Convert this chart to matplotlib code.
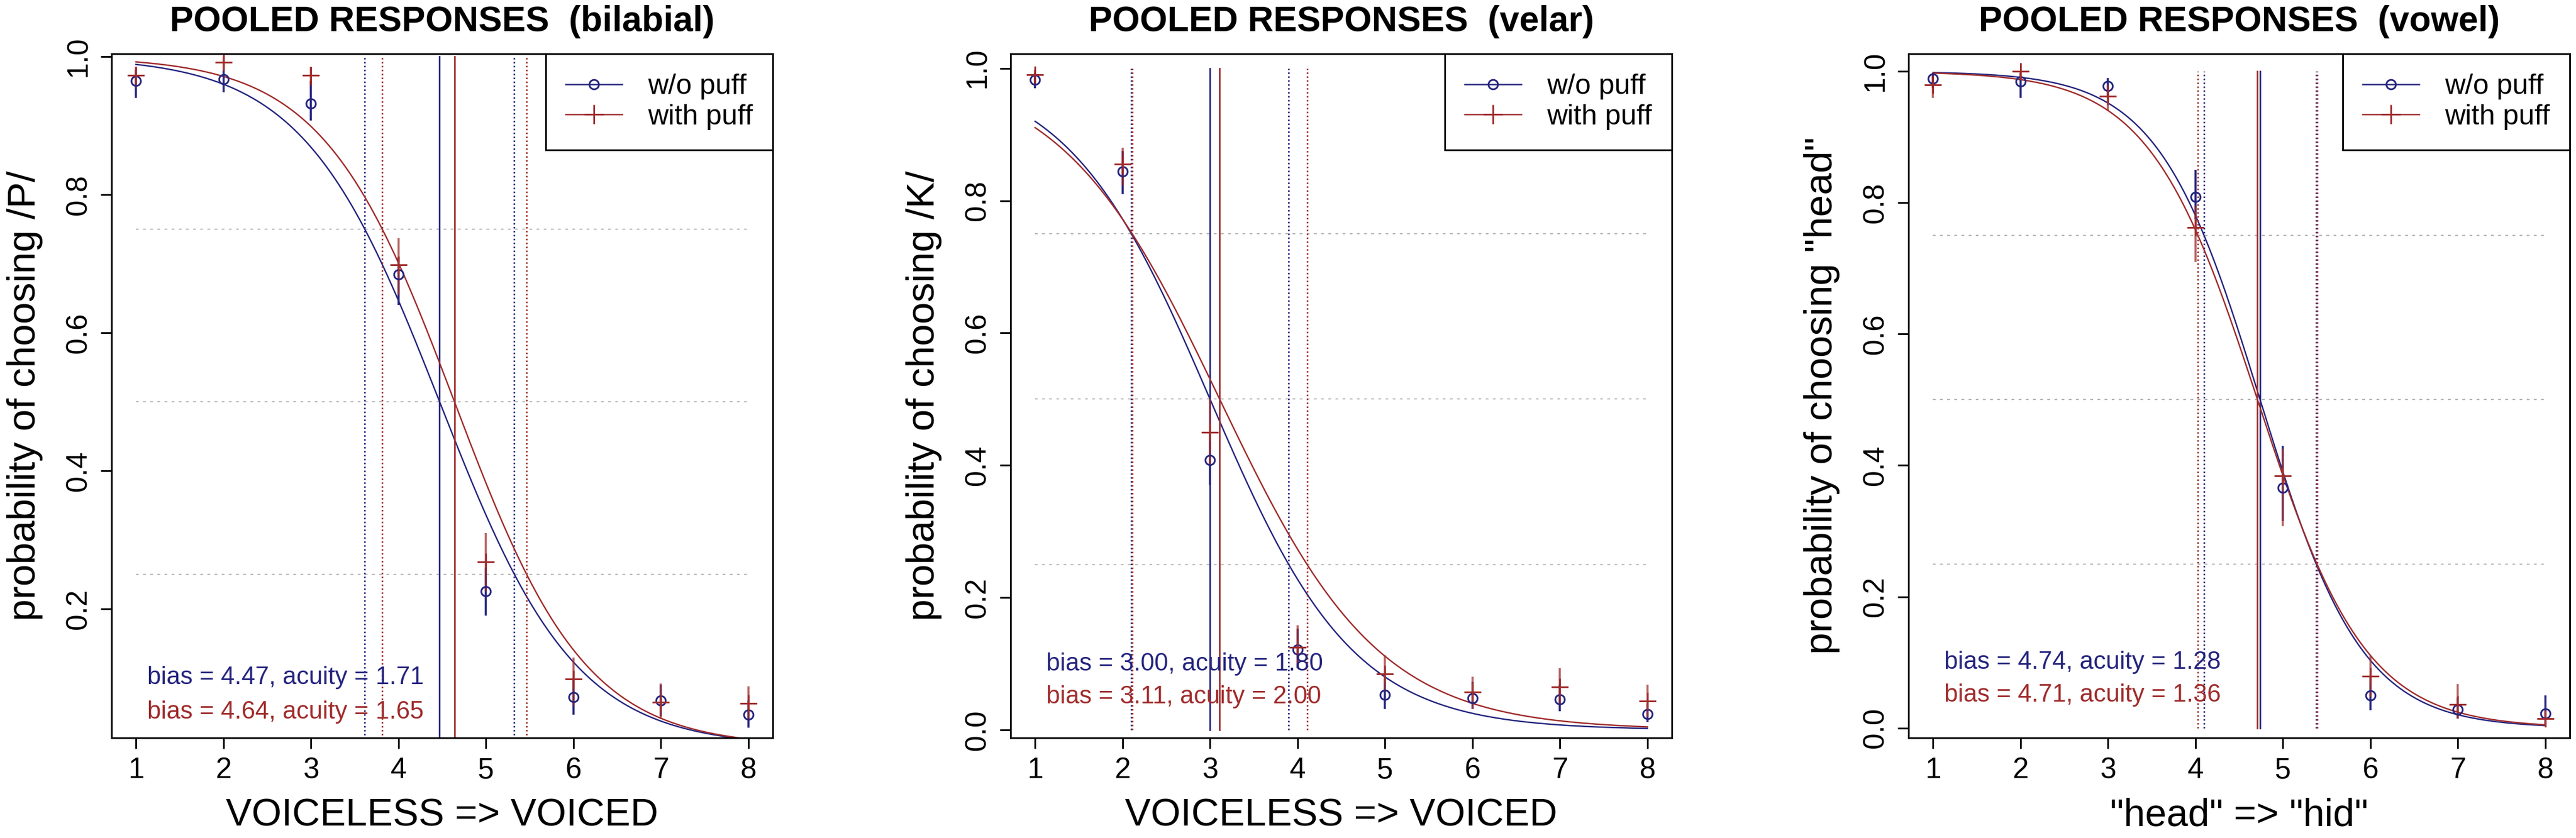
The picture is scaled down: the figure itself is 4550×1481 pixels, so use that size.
import numpy as np
import matplotlib
matplotlib.use('Agg')
import matplotlib.pyplot as plt

plt.rcParams['font.family'] = ['Liberation Sans', 'DejaVu Sans']

BLUE = '#25257f'
RED = '#a02c2c'

steps = [1, 2, 3, 4, 5, 6, 7, 8]

# bilabial
bil_blue_p = [0.965, 0.967, 0.932, 0.684, 0.225, 0.072, 0.067, 0.047]
bil_blue_lo = [0.940, 0.948, 0.907, 0.640, 0.190, 0.047, 0.044, 0.028]
bil_blue_hi = [0.980, 0.980, 0.965, 0.710, 0.260, 0.100, 0.090, 0.067]
bil_red_p = [0.973, 0.992, 0.973, 0.698, 0.268, 0.098, 0.065, 0.063]
bil_red_lo = [0.955, 0.980, 0.957, 0.655, 0.225, 0.060, 0.040, 0.040]
bil_red_hi = [0.985, 1.000, 0.985, 0.737, 0.310, 0.129, 0.092, 0.088]
bil_bias = [4.47, 4.64]
bil_acuity = [1.71, 1.65]

# velar
vel_blue_p = [0.983, 0.844, 0.408, 0.121, 0.053, 0.048, 0.046, 0.024]
vel_blue_lo = [0.970, 0.810, 0.370, 0.093, 0.032, 0.032, 0.028, 0.012]
vel_blue_hi = [0.993, 0.875, 0.450, 0.153, 0.077, 0.073, 0.068, 0.040]
vel_red_p = [0.990, 0.855, 0.450, 0.125, 0.085, 0.057, 0.065, 0.044]
vel_red_lo = [0.978, 0.823, 0.400, 0.093, 0.057, 0.032, 0.037, 0.020]
vel_red_hi = [0.998, 0.880, 0.500, 0.158, 0.113, 0.080, 0.093, 0.068]
vel_bias = [3.00, 3.11]
vel_acuity = [1.80, 2.00]

# vowel
vow_blue_p = [0.989, 0.985, 0.978, 0.809, 0.366, 0.050, 0.028, 0.022]
vow_blue_lo = [0.975, 0.960, 0.960, 0.775, 0.315, 0.027, 0.014, 0.006]
vow_blue_hi = [0.998, 0.998, 0.990, 0.850, 0.430, 0.078, 0.046, 0.050]
vow_red_p = [0.980, 1.000, 0.962, 0.762, 0.384, 0.079, 0.036, 0.014]
vow_red_lo = [0.960, 0.990, 0.940, 0.710, 0.307, 0.047, 0.014, 0.006]
vow_red_hi = [0.995, 1.000, 0.980, 0.795, 0.425, 0.110, 0.067, 0.026]
vow_bias = [4.74, 4.71]
vow_acuity = [1.28, 1.36]

panels = [
    dict(title='POOLED RESPONSES  (bilabial)', xlabel='VOICELESS => VOICED',
         ylabel='probability of choosing /P/',
         blue=(bil_blue_p, bil_blue_lo, bil_blue_hi), red=(bil_red_p, bil_red_lo, bil_red_hi),
         bias=bil_bias, acuity=bil_acuity, ylim=(0.013, 1.004),
         yticks=[0.2, 0.4, 0.6, 0.8, 1.0], left=197),
    dict(title='POOLED RESPONSES  (velar)', xlabel='VOICELESS => VOICED',
         ylabel='probability of choosing /K/',
         blue=(vel_blue_p, vel_blue_lo, vel_blue_hi), red=(vel_red_p, vel_red_lo, vel_red_hi),
         bias=vel_bias, acuity=vel_acuity, ylim=(-0.012, 1.022),
         yticks=[0.0, 0.2, 0.4, 0.6, 0.8, 1.0], left=1785),
    dict(title='POOLED RESPONSES  (vowel)', xlabel='"head" => "hid"',
         ylabel='probability of choosing "head"',
         blue=(vow_blue_p, vow_blue_lo, vow_blue_hi), red=(vow_red_p, vow_red_lo, vow_red_hi),
         bias=vow_bias, acuity=vow_acuity, ylim=(-0.015, 1.027),
         yticks=[0.0, 0.2, 0.4, 0.6, 0.8, 1.0], left=3371),
]

W, H = 4550, 1481
fig = plt.figure(figsize=(W / 100, H / 100), dpi=100)

top_px, bot_px = 95, 1304
for pn in panels:
    ax = fig.add_axes([pn['left'] / W, 1 - bot_px / H, 1168 / W, (bot_px - top_px) / H])
    ax.set_xlim(0.72, 8.28)
    ax.set_ylim(*pn['ylim'])

    # reference lines
    for h in [0.25, 0.5, 0.75]:
        ax.plot([1, 8], [h, h], color='#b4b4b4', lw=1.4, ls=(0, (2.5, 4)))

    xs = np.linspace(1, 8, 300)
    for b, a, c in zip(pn['bias'], pn['acuity'], [BLUE, RED]):
        k = 2 * np.log(3) / a
        ax.plot([b, b], [0, 1], color=c, lw=2.0)
        for d in [b - a / 2, b + a / 2]:
            ax.plot([d, d], [0, 1], color=c, lw=2.0, ls=(0, (1, 1.5)))
        ax.plot(xs, 1 / (1 + np.exp(k * (xs - b))), color=c, lw=1.8)

    bp, blo, bhi = pn['blue']
    rp, rlo, rhi = pn['red']
    ax.vlines(steps, blo, bhi, color=BLUE, lw=2.6)
    ax.vlines(steps, rlo, rhi, color=RED, lw=2.6, alpha=0.75)
    ax.plot(steps, bp, ls='none', marker='o', ms=12, mfc='none', mec=BLUE, mew=2.2)
    ax.plot(steps, rp, ls='none', marker='+', ms=22, mec=RED, mew=2.2)

    ax.text(1.13, 0.1, 'bias = %.2f, acuity = %.2f' % (pn['bias'][0], pn['acuity'][0]),
            color=BLUE, fontsize=31.5, va='center', ha='left')
    ax.text(1.13, 0.05, 'bias = %.2f, acuity = %.2f' % (pn['bias'][1], pn['acuity'][1]),
            color=RED, fontsize=31.5, va='center', ha='left')

    # legend with line through marker
    hb, = ax.plot([], [], color=BLUE, lw=1.8, marker='o', ms=12, mfc='none', mec=BLUE, mew=2.2)
    hr, = ax.plot([], [], color=RED, lw=1.8, marker='+', ms=24, mec=RED, mew=2.2)
    leg = ax.legend([hb, hr], ['w/o puff', 'with puff'], loc='upper right', borderaxespad=0,
                    fancybox=False, edgecolor='black', framealpha=1, fontsize=36,
                    handlelength=2.0, handletextpad=0.9, borderpad=0.7, labelspacing=0.15)
    leg.get_frame().set_linewidth(2.2)

    ax.set_xticks(steps)
    ax.set_yticks(pn['yticks'])
    ax.set_yticklabels(['%.1f' % t for t in pn['yticks']])
    ax.tick_params(length=14, width=2.2, labelsize=37, pad=10)
    for lab in ax.get_yticklabels():
        lab.set_rotation(90)
        lab.set_va('center')
    for s in ax.spines.values():
        s.set_linewidth(2.2)

    cx = (pn['left'] + 584) / W
    fig.text(cx, 1 - 38 / H, pn['title'], ha='center', va='center', fontsize=45, fontweight='bold')
    fig.text(cx, 1 - 1441 / H, pn['xlabel'], ha='center', va='center', fontsize=49)
    fig.text((pn['left'] - 153) / W, 1 - 699 / H, pn['ylabel'], ha='center', va='center',
             fontsize=50, rotation=90)

fig.savefig('out.png', dpi=100)
